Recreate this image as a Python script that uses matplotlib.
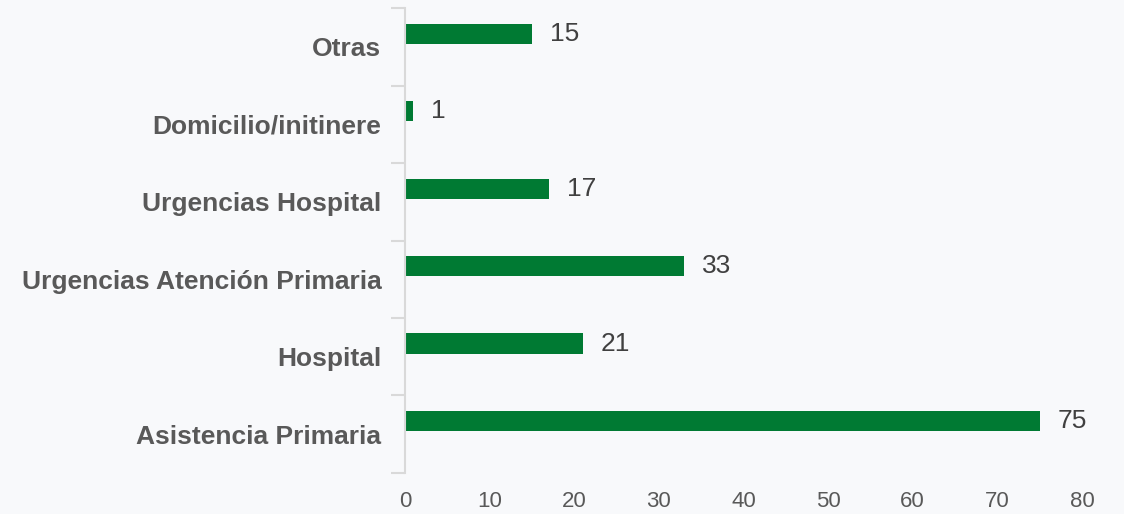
import matplotlib.pyplot as plt
from matplotlib.ticker import FixedLocator, NullFormatter
import numpy as np

categories = ['Asistencia Primaria', 'Hospital', 'Urgencias Atención Primaria',
              'Urgencias Hospital', 'Domicilio/initinere', 'Otras']
values = [75, 21, 33, 17, 1, 15]
xticks = [0, 10, 20, 30, 40, 50, 60, 70, 80]

bg = '#f8f9fb'
green = '#007a33'
grey = '#595959'

plt.rcParams['font.family'] = ['Liberation Sans', 'DejaVu Sans']

fig = plt.figure(figsize=(11.24, 5.14), dpi=100, facecolor=bg)
ax = fig.add_axes([0.3603, 0.0798, 0.6023, 0.9046], facecolor=bg)

pos = np.arange(len(categories))
offset = 0.17
bars = ax.barh(pos + offset, values, height=0.26, color=green)

for y, v in zip(pos + offset, values):
    ax.text(v + 2.1, y, str(v), va='center', ha='left', fontsize=19, color='#404040')

ax.set_ylim(-0.5, len(categories) - 0.5)
ax.set_xlim(0, 80)

# category labels on minor ticks, separator ticks on major
ax.yaxis.set_major_locator(FixedLocator(np.arange(-0.5, len(categories), 1.0)))
ax.yaxis.set_major_formatter(NullFormatter())
ax.yaxis.set_minor_locator(FixedLocator(pos))
ax.set_yticklabels(categories, minor=True, fontsize=19, fontweight='bold', color=grey)
ax.tick_params(axis='y', which='major', length=10, width=1.5, color='#d9d9d9')
ax.tick_params(axis='y', which='minor', length=0, pad=17)

ax.set_xticks(xticks)
ax.tick_params(axis='x', length=0, pad=13, labelsize=16, labelcolor=grey)

for s in ['top', 'right', 'bottom']:
    ax.spines[s].set_visible(False)
ax.spines['left'].set_color('#d9d9d9')
ax.spines['left'].set_linewidth(1.5)

plt.savefig('out.png', dpi=100, facecolor=bg)
